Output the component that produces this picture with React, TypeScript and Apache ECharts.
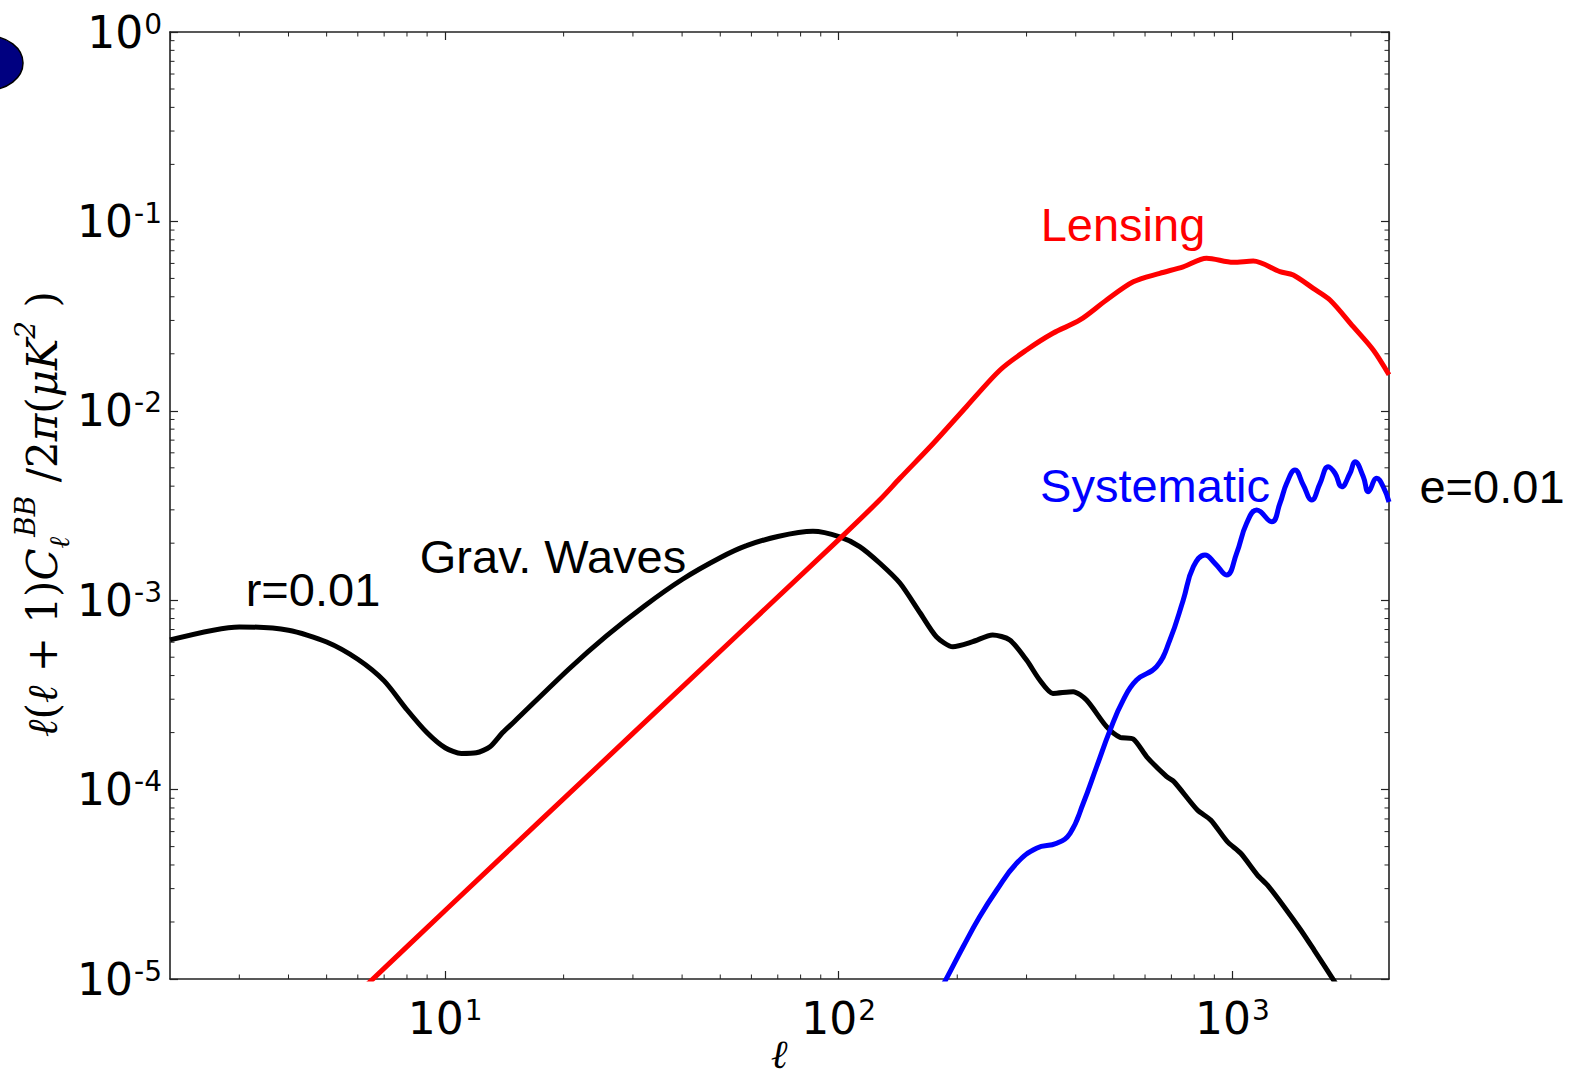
import React, { useEffect, useRef } from 'react';
import * as echarts from 'echarts';

// ---- Data (multipole ell, D_ell^BB in uK^2) ----
const gwEll = [2, 3, 4, 5, 6, 7, 8, 9, 10, 11, 12, 13, 14, 15, 20.6, 25.7, 32.1, 40.1, 50.1, 58.3, 70, 86, 100.6, 113, 127, 143, 161, 177, 195, 219, 246, 272, 300, 324, 350, 394, 426, 479, 518, 560, 606, 681, 711, 815, 881, 971, 1050, 1158, 1228, 1353, 1492, 1613, 1796, 1900];
const gwVal = [6.17e-4, 7.23e-4, 6.94e-4, 6.02e-4, 4.88e-4, 3.75e-4, 2.64e-4, 1.995e-4, 1.663e-4, 1.551e-4, 1.564e-4, 1.683e-4, 2.0e-4, 2.29e-4, 4.32e-4, 6.48e-4, 9.33e-4, 1.29e-3, 1.68e-3, 1.94e-3, 2.17e-3, 2.31e-3, 2.16e-3, 1.92e-3, 1.572e-3, 1.232e-3, 8.56e-4, 6.42e-4, 5.68e-4, 6.04e-4, 6.55e-4, 6.17e-4, 4.83e-4, 3.79e-4, 3.22e-4, 3.29e-4, 2.97e-4, 2.15e-4, 1.89e-4, 1.85e-4, 1.49e-4, 1.17e-4, 1.10e-4, 7.8e-5, 6.91e-5, 5.31e-5, 4.61e-5, 3.54e-5, 3.13e-5, 2.41e-5, 1.815e-5, 1.422e-5, 1.008e-5, 8.3e-6];

const lensEll = [6, 10, 30, 100, 127, 143, 174, 211, 257, 300, 350, 410, 479, 560, 654, 750, 860, 1005, 1130, 1321, 1428, 1605, 1770, 2028, 2280, 2500];
const lensVal = [8.4e-6, 2.3e-5, 1.98e-4, 2.09e-3, 3.38e-3, 4.4e-3, 6.74e-3, 1.051e-2, 1.642e-2, 2.094e-2, 2.566e-2, 3.016e-2, 3.846e-2, 4.8e-2, 5.32e-2, 5.76e-2, 6.39e-2, 6.08e-2, 6.18e-2, 5.43e-2, 5.21e-2, 4.43e-2, 3.846e-2, 2.78e-2, 2.094e-2, 1.55e-2];

const sysEll = [175, 188, 207, 228, 252, 283, 318, 358, 387, 418, 452, 489, 528, 571, 642, 694, 750, 796, 852, 903, 967, 1025, 1087, 1153, 1259, 1321, 1374, 1442, 1514, 1591, 1670, 1752, 1823, 1896, 1990, 2049, 2151, 2215, 2326, 2418, 2500];
const sysVal = [7.7e-6, 1.01e-5, 1.48e-5, 2.13e-5, 2.95e-5, 4.08e-5, 4.9e-5, 5.21e-5, 5.88e-5, 8.47e-5, 1.32e-4, 2.06e-4, 2.97e-4, 3.79e-4, 4.46e-4, 6.17e-4, 1.0e-3, 1.503e-3, 1.732e-3, 1.566e-3, 1.358e-3, 1.769e-3, 2.547e-3, 2.995e-3, 2.597e-3, 3.25e-3, 4.14e-3, 4.87e-3, 4.06e-3, 3.38e-3, 4.14e-3, 5.07e-3, 4.68e-3, 3.97e-3, 4.68e-3, 5.38e-3, 4.49e-3, 3.74e-3, 4.4e-3, 3.97e-3, 3.3e-3];

// ---- Axes ----
const xMin = 2;
const xMax = 2500;
const yMin = 1e-5;
const yMax = 1;
const xMinorTicks = [3, 4, 5, 6, 7, 8, 9, 20, 30, 40, 50, 60, 70, 80, 90, 200, 300, 400, 500, 600, 700, 800, 900, 2000];
const yMinorTicks = [
  2e-5, 3e-5, 4e-5, 5e-5, 6e-5, 7e-5, 8e-5, 9e-5,
  2e-4, 3e-4, 4e-4, 5e-4, 6e-4, 7e-4, 8e-4, 9e-4,
  2e-3, 3e-3, 4e-3, 5e-3, 6e-3, 7e-3, 8e-3, 9e-3,
  2e-2, 3e-2, 4e-2, 5e-2, 6e-2, 7e-2, 8e-2, 9e-2,
  0.2, 0.3, 0.4, 0.5, 0.6, 0.7, 0.8, 0.9,
];

// ---- Annotations ----
const labels = [
  { text: 'r=0.01', x: 313, y: 589, color: '#000000' },
  { text: 'Grav. Waves', x: 553, y: 556, color: '#000000' },
  { text: 'Lensing', x: 1123, y: 224, color: '#ff0000' },
  { text: 'Systematic', x: 1155, y: 485, color: '#0000ff' },
  { text: 'e=0.01', x: 1492, y: 486, color: '#000000' },
];

const powExp = (v: number): number | null => {
  const e = Math.log10(v);
  const r = Math.round(e);
  return Math.abs(e - r) < 1e-6 ? r : null;
};

const tickRich = {
  m: { fontFamily: 'DejaVu Sans', fontSize: 44, lineHeight: 44, verticalAlign: 'bottom', color: '#000' },
  s: { fontFamily: 'DejaVu Sans', fontSize: 28, lineHeight: 28, verticalAlign: 'top', padding: [0, 0, 20, 1], color: '#000' },
};
const fmt = (v: number) => {
  const r = powExp(v);
  return r === null ? '' : `{m|10}{s|${r}}`;
};

const frameLine = { show: true, lineStyle: { color: '#222', width: 1.6 } };
const majorTick = { show: true, inside: true, length: 8, lineStyle: { color: '#222', width: 1.2 } };

export default function App() {
  const ref = useRef<HTMLDivElement>(null);
  useEffect(() => {
    if (!ref.current) return;
    const chart = echarts.init(ref.current, undefined, { renderer: 'svg' });

    const minorData: number[][] = [];
    xMinorTicks.forEach((v) => {
      minorData.push([v, yMin, 0]);
      minorData.push([v, yMax, 1]);
    });
    yMinorTicks.forEach((v) => {
      minorData.push([xMin, v, 2]);
      minorData.push([xMax, v, 3]);
    });

    const serif = '"DejaVu Serif", serif';
    const option: any = {
      animation: false,
      backgroundColor: '#ffffff',
      grid: { left: 170, top: 32, width: 1219, height: 947, containLabel: false, outerBoundsMode: 'none' },
      xAxis: [
        {
          type: 'log', logBase: 10, min: xMin, max: xMax, position: 'bottom',
          axisLine: frameLine, axisTick: majorTick, splitLine: { show: false },
          axisLabel: { show: true, margin: 17, formatter: fmt, rich: tickRich, showMinLabel: false, showMaxLabel: false },
        },
        {
          type: 'log', logBase: 10, min: xMin, max: xMax, position: 'top',
          axisLine: frameLine, axisTick: majorTick, splitLine: { show: false }, axisLabel: { show: false },
        },
      ],
      yAxis: [
        {
          type: 'log', logBase: 10, min: yMin, max: yMax, position: 'left',
          axisLine: frameLine, axisTick: majorTick, splitLine: { show: false },
          axisLabel: { show: true, margin: 8, formatter: fmt, rich: tickRich, align: 'right' },
        },
        {
          type: 'log', logBase: 10, min: yMin, max: yMax, position: 'right',
          axisLine: frameLine, axisTick: majorTick, splitLine: { show: false }, axisLabel: { show: false },
        },
      ],
      series: [
        {
          type: 'line', name: 'Grav. Waves', xAxisIndex: 0, yAxisIndex: 0,
          data: gwEll.map((e, i) => [e, gwVal[i]]),
          symbol: 'none', showSymbol: false, smooth: 0.25, clip: true,
          lineStyle: { color: '#000000', width: 5 }, z: 3,
        },
        {
          type: 'line', name: 'Lensing', xAxisIndex: 0, yAxisIndex: 0,
          data: lensEll.map((e, i) => [e, lensVal[i]]),
          symbol: 'none', showSymbol: false, smooth: 0.3, clip: true,
          lineStyle: { color: '#ff0000', width: 5 }, z: 4,
        },
        {
          type: 'line', name: 'Systematic', xAxisIndex: 0, yAxisIndex: 0,
          data: sysEll.map((e, i) => [e, sysVal[i]]),
          symbol: 'none', showSymbol: false, smooth: 0.45, clip: true,
          lineStyle: { color: '#0000ff', width: 5 }, z: 5,
        },
        {
          type: 'custom', name: 'minorTicks', xAxisIndex: 0, yAxisIndex: 0,
          data: minorData, silent: true, z: 6,
          renderItem: (params: any, api: any) => {
            const p = api.coord([api.value(0), api.value(1)]);
            const d = api.value(2);
            let dx = 0;
            let dy = 0;
            if (d === 0) dy = -4.5;
            else if (d === 1) dy = 4.5;
            else if (d === 2) dx = 4.5;
            else dx = -4.5;
            return {
              type: 'line',
              shape: { x1: p[0], y1: p[1], x2: p[0] + dx, y2: p[1] + dy },
              style: { stroke: '#222', lineWidth: 1 },
            };
          },
        },
      ],
      graphic: [
        {
          type: 'ellipse', shape: { cx: -12, cy: 63, rx: 35, ry: 27 },
          style: { fill: '#000080', stroke: '#000000', lineWidth: 1.5 },
        },
        ...labels.map((l) => ({
          type: 'text', x: l.x, y: l.y,
          style: {
            text: l.text, fill: l.color, fontSize: 47, fontFamily: '"Liberation Sans", Arial, sans-serif',
            align: 'center', verticalAlign: 'middle', textAlign: 'center', textVerticalAlign: 'middle',
          },
        })),
        {
          type: 'text', x: 779, y: 1054,
          style: {
            text: 'ℓ', fill: '#000', fontSize: 40, fontStyle: 'italic', fontFamily: serif,
            align: 'center', verticalAlign: 'middle', textAlign: 'center', textVerticalAlign: 'middle',
          },
        },
        {
          type: 'text', x: 42, y: 514, rotation: Math.PI / 2,
          style: {
            text: '{i|ℓ}{r|(}{i|ℓ}{r| + 1)}{i|C}{sb|ℓ}{sp|BB}{r| /2}{i|π}{r|(}{i|μK}{sp|2}{r| )}',
            align: 'center', verticalAlign: 'middle', textAlign: 'center', textVerticalAlign: 'middle',
            fill: '#000',
            rich: {
              i: { fontFamily: serif, fontStyle: 'italic', fontSize: 42, lineHeight: 62, verticalAlign: 'middle', color: '#000' },
              r: { fontFamily: serif, fontSize: 42, lineHeight: 62, verticalAlign: 'middle', color: '#000' },
              sp: { fontFamily: serif, fontStyle: 'italic', fontSize: 28, lineHeight: 28, verticalAlign: 'top', color: '#000' },
              sb: { fontFamily: serif, fontStyle: 'italic', fontSize: 28, lineHeight: 28, verticalAlign: 'bottom', color: '#000' },
            },
          },
        },
      ],
    };
    chart.setOption(option);
    return () => chart.dispose();
  }, []);
  return <div ref={ref} style={{ position: 'absolute', left: 0, top: 0, width: 1578, height: 1082, background: '#fff' }} />;
}
